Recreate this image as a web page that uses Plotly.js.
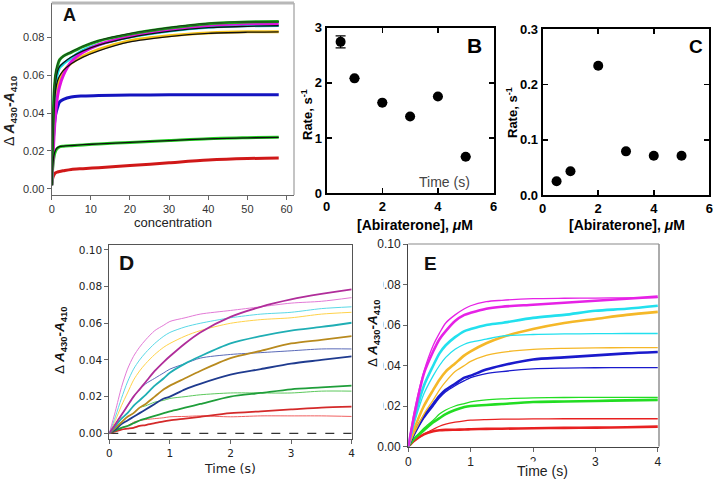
<!DOCTYPE html>
<html><head><meta charset="utf-8">
<script src="https://cdn.plot.ly/plotly-3.0.1.min.js"></script>
<style>html,body{margin:0;padding:0;background:#fff}#chart{width:713px;height:479px}</style>
</head><body><div id="chart"></div>
<script>
// ---------- Panel A ----------
const aX = [0, 0.3, 0.6, 1, 1.5, 2, 3, 5, 8, 12, 20, 30, 40, 50, 58];
const aGreenTop = [0.002, 0.030, 0.050, 0.060, 0.065, 0.068, 0.070, 0.072, 0.075, 0.078, 0.0816, 0.0848, 0.0871, 0.0880, 0.0882];
const aMagenta  = [0.002, 0.015, 0.028, 0.040, 0.049, 0.054, 0.060, 0.067, 0.072, 0.076, 0.0805, 0.0840, 0.0862, 0.0870, 0.0872];
const aCyan     = [0.002, 0.028, 0.046, 0.056, 0.061, 0.064, 0.066, 0.069, 0.073, 0.076, 0.0800, 0.0832, 0.0852, 0.0860, 0.0862];
const aGold     = [0.002, 0.020, 0.036, 0.046, 0.053, 0.0575, 0.0619, 0.0663, 0.070, 0.0735, 0.0781, 0.0807, 0.0822, 0.0828, 0.0828];
const aBlue     = [0.002, 0.020, 0.032, 0.039, 0.043, 0.0458, 0.0472, 0.0485, 0.0490, 0.0493, 0.0495, 0.0496, 0.0497, 0.0497, 0.0497];
const aGreen    = [0.003, 0.012, 0.017, 0.020, 0.0215, 0.0222, 0.0225, 0.0228, 0.0232, 0.0237, 0.0245, 0.0255, 0.0265, 0.0270, 0.0273];
const aRed      = [0.002, 0.006, 0.0075, 0.0085, 0.0089, 0.0092, 0.0096, 0.0103, 0.0107, 0.0112, 0.0123, 0.0138, 0.0152, 0.0160, 0.0163];
const aFitTop   = [0.002, 0.032, 0.052, 0.061, 0.0655, 0.068, 0.0700, 0.0722, 0.0752, 0.0782, 0.0818, 0.0850, 0.0872, 0.0880, 0.0882];
const aFitMid   = [0.002, 0.030, 0.048, 0.057, 0.062, 0.0645, 0.0665, 0.0695, 0.0728, 0.0758, 0.0798, 0.0830, 0.0850, 0.0857, 0.0860];
const aFitGold  = [0.002, 0.025, 0.042, 0.052, 0.057, 0.0595, 0.0625, 0.0660, 0.0695, 0.0728, 0.0775, 0.0803, 0.0820, 0.0826, 0.0828];
const aFitGreen = [0.003, 0.013, 0.018, 0.0205, 0.0218, 0.0223, 0.0226, 0.0229, 0.0233, 0.0237, 0.0245, 0.0255, 0.0264, 0.0269, 0.0272];
const aXTicks = [0, 10, 20, 30, 40, 50, 60];
const aYTicks = [0, 0.02, 0.04, 0.06, 0.08];

// ---------- Panel B / C ----------
const abiraterone = [0.5, 1, 2, 3, 4, 5];
const rateB = [2.74, 2.08, 1.64, 1.39, 1.75, 0.66];
const rateBErr = [0.11, 0, 0, 0, 0, 0];
const rateC = [0.025, 0.043, 0.234, 0.079, 0.071, 0.071];
const bcXTicks = [0, 2, 4, 6];
const bYTicks = [0, 1, 2, 3];
const cYTicks = [0, 0.1, 0.2, 0.3];
const cYTickText = ['0.0', '0.1', '0.2', '0.3'];

// ---------- Panel D ----------
const dX = [0, 0.1, 0.2, 0.3, 0.4, 0.5, 0.6, 0.75, 0.9, 1, 1.25, 1.5, 2, 2.5, 3, 3.5, 4];
const dPinkData  = [0, 0.012, 0.025, 0.035, 0.042, 0.047, 0.051, 0.056, 0.059, 0.061, 0.063, 0.065, 0.067, 0.069, 0.071, 0.072, 0.074];
const dCyanData  = [0, 0.009, 0.019, 0.028, 0.035, 0.040, 0.044, 0.049, 0.053, 0.055, 0.058, 0.060, 0.063, 0.065, 0.066, 0.068, 0.069];
const dGoldData  = [0, 0.007, 0.015, 0.022, 0.029, 0.034, 0.038, 0.043, 0.047, 0.049, 0.053, 0.056, 0.060, 0.062, 0.063, 0.065, 0.066];
const dBlueData  = [0, 0.005, 0.010, 0.015, 0.020, 0.024, 0.027, 0.030, 0.033, 0.035, 0.038, 0.041, 0.043, 0.044, 0.045, 0.046, 0.046];
const dGreenData = [0, 0.003, 0.006, 0.009, 0.011, 0.014, 0.015, 0.017, 0.018, 0.019, 0.020, 0.021, 0.022, 0.022, 0.022, 0.023, 0.023];
const dRedData   = [0, 0.002, 0.003, 0.004, 0.006, 0.007, 0.0075, 0.008, 0.0085, 0.009, 0.0092, 0.0095, 0.009, 0.0095, 0.0095, 0.0095, 0.0092];
const dPurpleFit = [0, 0.005, 0.010, 0.015, 0.020, 0.024, 0.028, 0.034, 0.039, 0.042, 0.049, 0.055, 0.0635, 0.069, 0.073, 0.076, 0.0785];
const dTealFit   = [0, 0.004, 0.008, 0.011, 0.015, 0.018, 0.021, 0.026, 0.030, 0.033, 0.038, 0.042, 0.049, 0.053, 0.056, 0.058, 0.0603];
const dBrownFit  = [0, 0.003, 0.006, 0.009, 0.011, 0.014, 0.016, 0.020, 0.024, 0.026, 0.030, 0.034, 0.041, 0.045, 0.049, 0.051, 0.053];
const dNavyFit   = [0, 0.002, 0.005, 0.007, 0.009, 0.011, 0.013, 0.016, 0.019, 0.020, 0.024, 0.027, 0.032, 0.035, 0.038, 0.040, 0.042];
const dGreenFit  = [0, 0.0015, 0.003, 0.004, 0.0055, 0.007, 0.008, 0.0095, 0.011, 0.012, 0.014, 0.016, 0.020, 0.022, 0.024, 0.025, 0.026];
const dRedFit    = [0, 0.001, 0.002, 0.0025, 0.003, 0.004, 0.0045, 0.0055, 0.0065, 0.007, 0.008, 0.009, 0.011, 0.012, 0.013, 0.014, 0.0145];
const dXTicks = [0, 1, 2, 3, 4];
const dYTicks = [0, 0.02, 0.04, 0.06, 0.08, 0.10];

// ---------- Panel E ----------
const eX = [0, 0.1, 0.25, 0.4, 0.5, 0.6, 0.75, 0.9, 1, 1.25, 1.5, 2, 2.5, 3, 3.5, 4];
const eMagentaData = [0, 0.016, 0.036, 0.047, 0.053, 0.057, 0.062, 0.065, 0.066, 0.068, 0.069, 0.070, 0.071, 0.072, 0.073, 0.074];
const eMagentaFit  = [0, 0.018, 0.037, 0.050, 0.056, 0.061, 0.065, 0.068, 0.0695, 0.0715, 0.0722, 0.0730, 0.0732, 0.0733, 0.0734, 0.0735];
const eCyanData    = [0, 0.014, 0.030, 0.040, 0.046, 0.050, 0.054, 0.057, 0.058, 0.060, 0.061, 0.0635, 0.065, 0.067, 0.068, 0.0695];
const eCyanFit     = [0, 0.012, 0.026, 0.035, 0.040, 0.044, 0.048, 0.0505, 0.0515, 0.053, 0.0545, 0.0553, 0.0556, 0.0557, 0.0558, 0.0558];
const eGoldData    = [0, 0.009, 0.020, 0.028, 0.033, 0.037, 0.041, 0.045, 0.047, 0.051, 0.054, 0.058, 0.061, 0.063, 0.065, 0.0665];
const eGoldFit     = [0, 0.007, 0.016, 0.023, 0.028, 0.032, 0.037, 0.040, 0.042, 0.045, 0.0465, 0.048, 0.0485, 0.0487, 0.0488, 0.0488];
const eBlueData    = [0, 0.007, 0.015, 0.021, 0.025, 0.028, 0.031, 0.034, 0.035, 0.038, 0.040, 0.043, 0.044, 0.045, 0.046, 0.0467];
const eBlueFit     = [0, 0.006, 0.014, 0.020, 0.024, 0.027, 0.030, 0.0325, 0.034, 0.036, 0.037, 0.0383, 0.0387, 0.0389, 0.039, 0.039];
const eGreenData   = [0, 0.004, 0.008, 0.012, 0.014, 0.016, 0.018, 0.0195, 0.020, 0.0205, 0.021, 0.022, 0.0222, 0.0225, 0.0228, 0.023];
const eGreenFit    = [0, 0.004, 0.009, 0.013, 0.016, 0.018, 0.020, 0.0212, 0.022, 0.023, 0.0235, 0.024, 0.0242, 0.0243, 0.0243, 0.0243];
const eRedData     = [0, 0.003, 0.006, 0.0075, 0.008, 0.0082, 0.0083, 0.0084, 0.0085, 0.0087, 0.0088, 0.009, 0.0092, 0.0093, 0.0095, 0.0098];
const eRedFit      = [0, 0.003, 0.006, 0.0085, 0.010, 0.011, 0.012, 0.0127, 0.013, 0.0133, 0.0135, 0.0136, 0.0137, 0.0137, 0.0137, 0.0137];
const eYTicks = [0, 0.02, 0.04, 0.06, 0.08, 0.10];

// ---------- helpers ----------
const W = 713, H = 479;
const px = x => x / W, py = y => 1 - y / H;
function line(x, y, color, width, xa, ya, extra) {
  return Object.assign({type: 'scatter', mode: 'lines', x: x, y: y, xaxis: xa, yaxis: ya,
    line: {color: color, width: width, shape: 'spline', smoothing: 0.8}, hoverinfo: 'skip'}, extra || {});
}

const traces = [];
// A
[[aRed,'#d01818'],[aGreen,'#22cc22'],[aBlue,'#1414c0'],[aGold,'#f2c018'],[aCyan,'#10d8e0'],[aMagenta,'#e010e0'],[aGreenTop,'#1fa81f']]
  .forEach(s => traces.push(line(aX, s[0], s[1], 3, 'x', 'y')));
[aFitGreen, aFitGold, aFitMid, aFitTop].forEach(f => traces.push(line(aX, f, '#111', 1.3, 'x', 'y')));
traces.push(line(aX, aGreenTop, '#1a6e1a', 1.3, 'x', 'y'));
// B
traces.push({type: 'scatter', mode: 'markers', x: abiraterone, y: rateB, xaxis: 'x2', yaxis: 'y2',
  marker: {color: '#000', size: 10},
  error_y: {type: 'data', array: rateBErr, visible: true, color: '#000', thickness: 1.2, width: 5}, hoverinfo: 'skip'});
// C
traces.push({type: 'scatter', mode: 'markers', x: abiraterone, y: rateC, xaxis: 'x3', yaxis: 'y3',
  marker: {color: '#000', size: 10}, hoverinfo: 'skip'});
// D
traces.push(line([0, 4], [0, 0], '#000', 1, 'x4', 'y4', {line: {color: '#000', width: 1, dash: 'dash'}}));
[[dRedData,'#f06060'],[dGreenData,'#5cc85c'],[dBlueData,'#5a6ab8'],[dGoldData,'#ffd24a'],[dCyanData,'#5ad8e6'],[dPinkData,'#e27ad6']]
  .forEach(s => traces.push(line(dX, s[0], s[1], 1, 'x4', 'y4')));
[[dRedFit,'#d42a2a'],[dGreenFit,'#1f9e3a'],[dNavyFit,'#1f3b8f'],[dBrownFit,'#b88a1e'],[dTealFit,'#1faeb4'],[dPurpleFit,'#b02d9a']]
  .forEach(s => traces.push(line(dX, s[0], s[1], 1.8, 'x4', 'y4')));
// E
[[eRedData,eRedFit,'#e82020'],[eGreenData,eGreenFit,'#22dd22'],[eBlueData,eBlueFit,'#1a1acc'],
 [eGoldData,eGoldFit,'#f5b828'],[eCyanData,eCyanFit,'#22e0ee'],[eMagentaData,eMagentaFit,'#e622e6']]
  .forEach(s => {
    traces.push(line(eX, s[0], s[2], 2.6, 'x5', 'y5'));
    traces.push(line(eX, s[1], s[2], 1.3, 'x5', 'y5'));
  });

const fA = 'Liberation Sans, Arial, sans-serif';
const fD = 'DejaVu Sans, sans-serif';

function grayAxis(domain, range, ticks, fmt, anchor, font, size, tcol) {
  return {domain: domain, range: range, anchor: anchor, showgrid: false, zeroline: false,
    showline: true, linecolor: '#666', linewidth: 1.2, ticks: 'outside', ticklen: 4, tickcolor: '#666',
    tickvals: ticks, tickformat: fmt, tickfont: {family: font, size: size, color: tcol}, fixedrange: true};
}
function boxAxis(domain, range, ticks, labels, anchor) {
  return {domain: domain, range: range, anchor: anchor, showgrid: false, zeroline: false,
    showline: true, linecolor: '#000', linewidth: 2, mirror: 'ticks', ticks: 'inside', ticklen: 5,
    tickwidth: 1.5, tickcolor: '#000', tickmode: 'array', tickvals: ticks,
    ticktext: labels.map(t => '<b>' + t + '</b>'),
    tickfont: {family: fA, size: 13, color: '#000'}, fixedrange: true};
}

const layout = {
  width: W, height: H, margin: {l: 0, r: 0, t: 0, b: 0}, showlegend: false,
  paper_bgcolor: '#fff', plot_bgcolor: 'rgba(0,0,0,0)',
  xaxis: grayAxis([px(51.7), px(294)], [0, 61.9], aXTicks, 'd', 'y', fA, 11, '#333'),
  yaxis: grayAxis([py(195), py(3)], [-0.0032, 0.098], aYTicks, '.2f', 'x', fA, 11, '#333'),
  xaxis2: boxAxis([px(326.7), px(493.5)], [0, 6], bcXTicks, bcXTicks.map(String), 'y2'),
  yaxis2: boxAxis([py(193.3), py(27.5)], [0, 3], bYTicks, bYTicks.map(String), 'x2'),
  xaxis3: boxAxis([px(542.7), px(709.3)], [0, 6], bcXTicks, bcXTicks.map(String), 'y3'),
  yaxis3: boxAxis([py(195), py(29.3)], [0, 0.3], cYTicks, cYTickText, 'x3'),
  xaxis4: Object.assign(grayAxis([px(109.3), px(351.7)], [0, 4], dXTicks, 'd', 'y4', fD, 10.5, '#222'), {mirror: true, linecolor: '#555', linewidth: 1}),
  yaxis4: Object.assign(grayAxis([py(439.3), py(245)], [-0.00327, 0.1027], dYTicks, '.2f', 'x4', fD, 10.5, '#222'), {mirror: true, linecolor: '#555', linewidth: 1}),
  xaxis5: Object.assign(grayAxis([px(408.3), px(659)], [0, 4.02], dXTicks, 'd', 'y5', fA, 12, '#222'), {linecolor: '#444'}),
  yaxis5: Object.assign(grayAxis([py(446.5), py(244)], [0, 0.1], eYTicks, '.2f', 'x5', fA, 12, '#222'), {linecolor: '#444'}),
  shapes: [
    {type: 'line', xref: 'x domain', yref: 'y domain', x0: 0, x1: 1, y0: 1, y1: 1, line: {color: '#b8b8b8', width: 3}},
    {type: 'line', xref: 'x domain', yref: 'y domain', x0: 1, x1: 1, y0: 0, y1: 1, line: {color: '#b0b0b0', width: 1.5}},
    {type: 'line', xref: 'x5 domain', yref: 'y5 domain', x0: 0, x1: 1, y0: 1, y1: 1, line: {color: '#b0b0b0', width: 1.5}},
    {type: 'line', xref: 'x5 domain', yref: 'y5 domain', x0: 1, x1: 1, y0: 0, y1: 1, line: {color: '#909090', width: 1.5}},
    {type: 'rect', xref: 'paper', yref: 'paper', layer: 'above', x0: px(360), x1: px(383.5), y0: py(432), y1: py(255),
      line: {width: 0}, fillcolor: '#fff'}
  ],
  annotations: [
    {text: '<b>A</b>', x: px(69.5), y: py(15.5), font: {family: fA, size: 18, color: '#111'}},
    {text: '<b>B</b>', x: px(474), y: py(45), font: {family: fA, size: 21, color: '#000'}},
    {text: '<b>C</b>', x: px(696), y: py(46), font: {family: fA, size: 19, color: '#000'}},
    {text: '<b>D</b>', x: px(126), y: py(262), font: {family: fA, size: 21, color: '#111'}},
    {text: '<b>E</b>', x: px(431), y: py(263), font: {family: fA, size: 19, color: '#111'}},
    {text: 'Δ <b><i>A</i><sub>430</sub>-<i>A</i><sub>410</sub></b>', x: px(10), y: py(111), textangle: -90, font: {family: fA, size: 14, color: '#222'}},
    {text: 'concentration', x: px(173), y: py(222), font: {family: fA, size: 13, color: '#222'}},
    {text: '<b>Rate, s<sup>-1</sup></b>', x: px(307), y: py(115), textangle: -90, font: {family: fA, size: 13, color: '#000'}},
    {text: '<b>[Abiraterone], <i>μ</i>M</b>', x: px(415), y: py(225), font: {family: fA, size: 14, color: '#000'}},
    {text: 'Time (s)', x: px(444), y: py(182), font: {family: fA, size: 14, color: '#444'}},
    {text: '<b>Rate, s<sup>-1</sup></b>', x: px(512), y: py(113), textangle: -90, font: {family: fA, size: 13, color: '#000'}},
    {text: '<b>[Abiraterone], <i>μ</i>M</b>', x: px(627), y: py(225), font: {family: fA, size: 14, color: '#000'}},
    {text: 'Δ <b><i>A</i><sub>430</sub>-<i>A</i><sub>410</sub></b>', x: px(60), y: py(340), textangle: -90, font: {family: fA, size: 13.5, color: '#111'}},
    {text: 'Time (s)', x: px(230), y: py(468), font: {family: fD, size: 12.5, color: '#222'}},
    {text: 'Δ <b><i>A</i><sub>430</sub>-<i>A</i><sub>410</sub></b>', x: px(373), y: py(333), textangle: -90, font: {family: fA, size: 13.5, color: '#111'}},
    {text: 'Time (s)', x: px(542), y: py(470.5), bgcolor: '#fff', borderpad: 1, font: {family: fA, size: 14, color: '#222'}}
  ].map(a => Object.assign({xref: 'paper', yref: 'paper', showarrow: false, xanchor: 'center', yanchor: 'middle'}, a))
};

Plotly.newPlot('chart', traces, layout, {staticPlot: true, displayModeBar: false});
</script>
</body></html>
